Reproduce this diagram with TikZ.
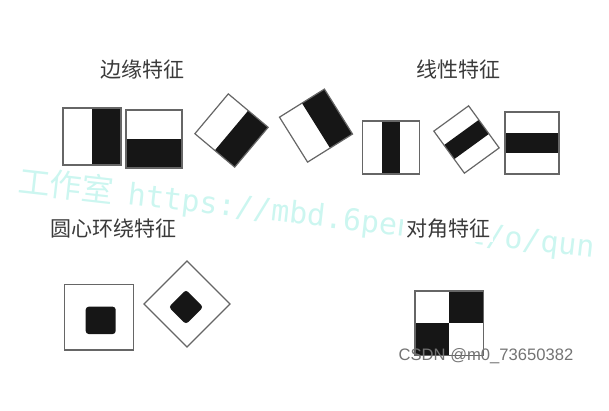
\documentclass[tikz,border=0pt]{standalone}
\usepackage{fontspec}
\newfontfamily\cjk{Noto Sans CJK SC}
\newfontfamily\wmfont{DejaVu Sans Mono}
\newfontfamily\csdnfont{Liberation Sans}
\definecolor{cadregris}{HTML}{666666}
\definecolor{noir}{HTML}{161616}
\definecolor{titregris}{HTML}{3A3A3A}
\definecolor{filigrane}{HTML}{CCF6F0}
\begin{document}
\begin{tikzpicture}[x=1pt, y=-1pt,
    titre/.style={font=\cjk\fontsize{21}{24}\selectfont, text=titregris, inner sep=0pt},
    cadre/.style={draw=cadregris, line width=1.2pt},
    plein/.style={fill=noir}
]
\useasboundingbox (0,0) rectangle (609,410);

% filigrane
\node[rotate=-6.5, anchor=base west, text=filigrane, inner sep=0pt] (wm) at (17,192)
    {{\cjk\fontsize{32}{34}\selectfont 工作室} \hspace{11pt}{\wmfont\fontsize{30}{32}\selectfont https://mbd.6pen.art/o/qun}};

% titres
\node[titre] (bord) at (142.5,70) {边缘特征};
\node[titre] (ligne) at (458,69.5) {线性特征};
\node[titre] (centre) at (113,229) {圆心环绕特征};
\node[titre, fill=white, inner sep=3pt] (diag) at (448,229) {对角特征};

% caracteristiques de bord
\foreach \cx/\cy/\w/\h/\ang in {92/136.5/58/57/0, 154/139/58/56/-90, 231.5/130.5/52/52/-40, 316/125.6/53/53/32} {
    \begin{scope}[shift={(\cx,\cy)}, rotate=\ang]
        \fill[white] (-\w/2,-\h/2) rectangle (\w/2,\h/2);
        \fill[plein] (0,-\h/2) rectangle (\w/2,\h/2);
        \draw[cadre] (-\w/2,-\h/2) rectangle (\w/2,\h/2);
    \end{scope}
}

% caracteristiques lineaires
\foreach \cx/\cy/\w/\h/\ang in {391/147.5/53/56.6/90, 466.5/139.5/43/52/36, 532/143/54/62/0} {
    \begin{scope}[shift={(\cx,\cy)}, rotate=\ang]
        \fill[white] (-\w/2,-\h/2) rectangle (\w/2,\h/2);
        \fill[plein] (-\w/2,-\h/6) rectangle (\w/2,\h/6);
        \draw[cadre] (-\w/2,-\h/2) rectangle (\w/2,\h/2);
    \end{scope}
}

% centre-entoure
\draw[cadre] (64.2,284.3) rectangle (133.2,350);
\fill[plein, rounded corners=3pt] (85.7,306.7) rectangle (115.7,334);
\begin{scope}[shift={(187,304)}, rotate=45]
    \draw[cadre] (-30.4,-30.4) rectangle (30.4,30.4);
\end{scope}
\begin{scope}[shift={(186,307)}, rotate=45]
    \fill[plein, rounded corners=3pt] (-12.2,-12.2) rectangle (12.2,12.2);
\end{scope}

% diagonale
\fill[plein] (449.3,291) rectangle (483.3,323.3);
\fill[plein] (415,323.3) rectangle (449.3,355.6);
\draw[cadre] (415,291) rectangle (483.3,355.6);

\node[font=\csdnfont\fontsize{16.6}{18}\selectfont, text=black!55, inner sep=0pt] (csdn) at (486,356) {CSDN @m0\_73650382};
\end{tikzpicture}
\end{document}
